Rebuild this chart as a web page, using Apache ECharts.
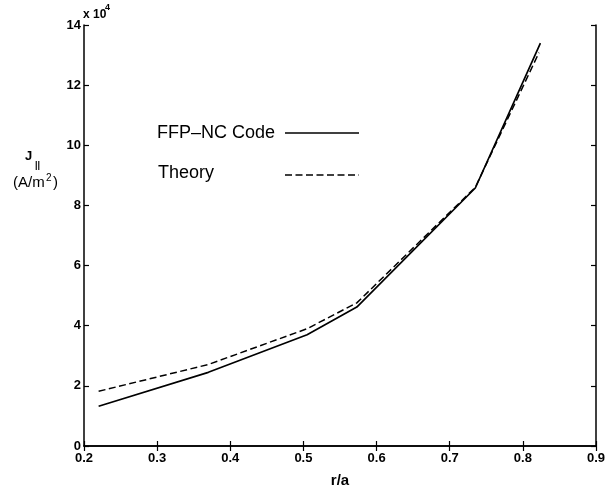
<!DOCTYPE html>
<html>
<head>
<meta charset="utf-8">
<script src="https://cdn.jsdelivr.net/npm/echarts@6/dist/echarts.min.js"></script>
<style>
  html, body { margin: 0; padding: 0; background: #fff; }
  #chart { width: 613px; height: 493px; }
</style>
</head>
<body>
<div id="chart"></div>
<script>
// r/a positions and J_parallel values (x 10^4 A/m^2)
const radius = [0.22, 0.37, 0.505, 0.573, 0.735, 0.824];
const codeValues = [1.32, 2.45, 3.70, 4.62, 8.58, 13.40];
const theoryRadius = [0.22, 0.37, 0.505, 0.573, 0.735, 0.822];
const theoryValues = [1.82, 2.71, 3.90, 4.76, 8.60, 13.08];

const xTicks = [0.2, 0.3, 0.4, 0.5, 0.6, 0.7, 0.8, 0.9];
const yTicks = [0, 2, 4, 6, 8, 10, 12, 14];

const FONT = 'Liberation Sans, Arial, sans-serif';
const chart = echarts.init(document.getElementById('chart'));

const axisCommon = {
  axisLine: { show: true, lineStyle: { color: '#000', width: 1.5 } },
  axisTick: { show: true, inside: true, length: 5, lineStyle: { color: '#000', width: 1.2 } },
  splitLine: { show: false },
};

function label(text, x, y, size, weight) {
  return {
    type: 'text', x: x, y: y,
    style: {
      text: text, fill: '#000', verticalAlign: 'middle', align: 'left',
      font: (weight || 'normal') + ' ' + size + 'px ' + FONT,
    },
  };
}

chart.setOption({
  animation: false,
  backgroundColor: '#fff',
  grid: { left: 84, right: 17, top: 25, bottom: 40 },
  xAxis: [
    {
      ...axisCommon,
      type: 'value', min: 0.2, max: 0.9, interval: 0.1,
      axisLabel: {
        color: '#000', fontFamily: FONT, fontSize: 13, fontWeight: 'bold', margin: 6,
        formatter: (v) => xTicks.includes(+v.toFixed(1)) ? v.toFixed(1) : '',
      },
      name: 'r/a', nameLocation: 'middle', nameGap: 27,
      nameTextStyle: { color: '#000', fontFamily: FONT, fontSize: 15, fontWeight: 'bold' },
    },
    {
      ...axisCommon,
      type: 'value', position: 'top', min: 0.2, max: 0.9, interval: 0.1,
      axisLabel: { show: false },
    },
  ],
  yAxis: [
    {
      ...axisCommon,
      type: 'value', min: 0, max: 14, interval: 2,
      axisLabel: {
        color: '#000', fontFamily: FONT, fontSize: 13, fontWeight: 'bold', margin: 3,
        formatter: (v) => yTicks.includes(v) ? String(v) : '',
      },
    },
    {
      ...axisCommon,
      type: 'value', position: 'right', min: 0, max: 14, interval: 2,
      axisLabel: { show: false },
    },
  ],
  series: [
    {
      name: 'FFP-NC Code',
      type: 'line',
      data: radius.map((r, i) => [r, codeValues[i]]),
      symbol: 'none',
      lineStyle: { color: '#000', width: 1.7 },
    },
    {
      name: 'Theory',
      type: 'line',
      data: theoryRadius.map((r, i) => [r, theoryValues[i]]),
      symbol: 'none',
      lineStyle: { color: '#000', width: 1.5, type: [7, 3.5] },
    },
  ],
  graphic: [
    // exponent label
    label('x 10', 83, 15, 12, 'bold'),
    label('4', 105, 8, 9, 'bold'),
    // y axis title
    label('J', 25, 156, 13, 'bold'),
    label('||', 35, 166, 9, 'bold'),
    label('(A/m', 13, 183, 15),
    label('2', 46, 178, 10),
    label(')', 53, 183, 15),
    // legend
    label('FFP\u2013NC Code', 157, 133, 18),
    {
      type: 'line', shape: { x1: 285, y1: 133, x2: 359, y2: 133 },
      style: { stroke: '#000', lineWidth: 1.7 },
    },
    label('Theory', 158, 173, 18),
    {
      type: 'line', shape: { x1: 285, y1: 175, x2: 359, y2: 175 },
      style: { stroke: '#000', lineWidth: 1.5, lineDash: [7, 3.5] },
    },
  ],
});
</script>
</body>
</html>
